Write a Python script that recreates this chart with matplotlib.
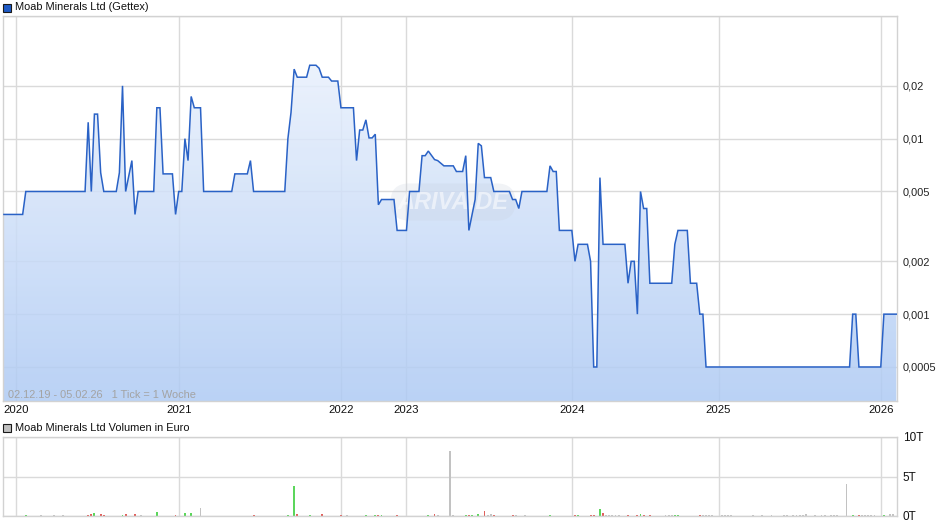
import matplotlib
matplotlib.use('Agg')
import matplotlib.pyplot as plt
import numpy as np
from matplotlib.ticker import FixedLocator, NullLocator, FixedFormatter
from matplotlib.patches import Rectangle

plt.rcParams['font.family'] = ['Liberation Sans', 'DejaVu Sans']

# ---------------- data ----------------
title_price = "Moab Minerals Ltd (Gettex)"
title_vol = "Moab Minerals Ltd Volumen in Euro"
period_note = "02.12.19 - 05.02.26   1 Tick = 1 Woche"
watermark = "ARIVA.DE"

# week index (1 tick = 1 week, weeks without trades skipped) and price in EUR
price_week = [0, 6, 7, 26, 27, 28, 29, 30, 31, 32, 36, 37, 38, 39, 41, 42, 43,
              48, 49, 50, 51, 54, 55, 56, 57, 58, 59, 60, 61, 63, 64, 73, 74, 78,
              79, 80, 90, 91, 92, 93, 94, 97, 98, 100, 101, 102, 104, 105, 107,
              108, 112, 113, 114, 115, 116, 117, 118, 119, 120, 121, 125, 126,
              129, 130, 133, 134, 135, 136, 138, 139, 141, 144, 145, 147, 148,
              149, 151, 152, 153, 154, 156, 157, 162, 163, 164, 165, 166, 174,
              175, 176, 177, 178, 182, 183, 184, 187, 188, 189, 190, 191, 192,
              199, 200, 201, 202, 203, 204, 205, 206, 207, 214, 215, 216, 219,
              220, 222, 223, 224, 225, 271, 272, 273, 274, 281, 282, 286]
price_val = [0.0037, 0.0037, 0.005, 0.005, 0.0124, 0.005, 0.0138, 0.0138, 0.0064,
             0.005, 0.005, 0.0064, 0.02, 0.005, 0.0075, 0.0037, 0.005,
             0.005, 0.015, 0.015, 0.0063, 0.0063, 0.0037, 0.005, 0.005, 0.01,
             0.0075, 0.0174, 0.015, 0.015, 0.005, 0.005, 0.0063, 0.0063,
             0.0075, 0.005, 0.005, 0.01, 0.0141, 0.0249, 0.0224, 0.0224, 0.0262,
             0.0262, 0.0252, 0.0224, 0.0224, 0.0213, 0.0213,
             0.015, 0.015, 0.0075, 0.0112, 0.0112, 0.0128, 0.0101, 0.0101,
             0.0106, 0.0042, 0.0045, 0.0045, 0.003,
             0.003, 0.005, 0.005, 0.008, 0.008, 0.0085, 0.0076, 0.0075, 0.0070,
             0.0070, 0.0065, 0.0065, 0.008,
             0.003, 0.0045, 0.0094, 0.0091, 0.006, 0.006, 0.005, 0.005, 0.0045,
             0.0045, 0.004, 0.005, 0.005,
             0.0070, 0.0065, 0.0065, 0.003, 0.003, 0.002, 0.0025, 0.0025, 0.002,
             0.0005, 0.0005, 0.006, 0.0025,
             0.0025, 0.0015, 0.002, 0.002, 0.001, 0.005, 0.004, 0.004, 0.0015,
             0.0015, 0.0025, 0.003, 0.003,
             0.0015, 0.0015, 0.001, 0.001, 0.0005, 0.0005, 0.001, 0.001, 0.0005,
             0.0005, 0.001, 0.001]

year_labels = ['2020', '2021', '2022', '2023', '2024', '2025', '2026']
year_week = [4, 56, 108, 129, 182, 229, 281]

price_ticks = [0.0005, 0.001, 0.002, 0.005, 0.01, 0.02, 0.05]
price_tick_labels = ['0,0005', '0,001', '0,002', '0,005', '0,01', '0,02', '']

# volume in EUR per week; colour: g = up, r = down, k = unchanged
vol_week = [7, 12, 16, 19, 27, 28, 29, 31, 32, 38, 39, 42, 44, 49, 55, 58, 60, 63,
            80, 91, 93, 94, 98, 102, 108, 110, 116, 119, 120, 121, 126, 136, 138,
            139, 143, 144, 148, 149, 150, 152, 154, 155, 156, 157, 163, 164, 167,
            175, 183, 184, 188, 189, 191, 192, 193, 194, 195, 196, 197, 200, 203,
            204, 205, 207, 212, 213, 214, 215, 216, 223, 224, 225, 226, 227, 230,
            231, 232, 233, 240, 243, 246, 250, 251, 253, 254, 255, 256, 257, 260,
            262, 263, 265, 266, 267, 270, 272, 274, 275, 276, 277, 278, 279, 282,
            284, 285]
vol_val = [120, 120, 120, 120, 180, 220, 400, 220, 180, 150, 220, 220, 120, 450, 180,
           420, 400, 1000,
           180, 150, 3800, 200, 150, 300, 180, 120, 150, 150, 180, 150, 180, 150, 200,
           120, 8200, 120, 150, 180, 120, 300, 600, 180, 220, 180, 180, 120, 120,
           150, 180, 150, 180, 180, 900, 400, 120, 120, 120, 120, 150, 150, 150,
           300, 150, 180, 120, 120, 120, 150, 150, 150, 120, 120, 120, 120, 120,
           120, 120, 120, 120, 120, 120, 120, 120, 150, 120, 120, 120, 250, 120,
           120, 120, 120, 120, 150, 4050, 150, 150, 120, 120, 120, 120, 120, 150,
           220, 220]
vol_color = ['g', 'k', 'k', 'k', 'r', 'r', 'g', 'r', 'r', 'g', 'r', 'r', 'k', 'g', 'r', 'g', 'g', 'k',
             'r', 'g', 'g', 'r', 'g', 'r', 'r', 'k', 'g', 'g', 'r', 'g', 'r', 'g', 'r',
             'k', 'k', 'k', 'g', 'r', 'g', 'g', 'r', 'k', 'k', 'r', 'r', 'k', 'k',
             'g', 'r', 'g', 'r', 'r', 'g', 'r', 'k', 'k', 'k', 'k', 'k', 'r', 'r',
             'g', 'r', 'r', 'k', 'k', 'k', 'g', 'g', 'r', 'k', 'k', 'k', 'k', 'k',
             'k', 'k', 'k', 'k', 'k', 'k', 'k', 'k', 'k', 'k', 'k', 'k', 'k', 'k',
             'k', 'k', 'k', 'k', 'k', 'k', 'g', 'r', 'k', 'k', 'k', 'k', 'k', 'g',
             'k', 'k']
vol_ticks = [0, 5000, 10000]
vol_tick_labels = ['0T', '5T', '10T']

# ---------------- styling ----------------
W, H = 940, 526
GRID = '#dadada'
SPINE = '#d2d2d2'
LINE = '#2a62c6'
FS = 7.9
col_map = {'g': '#5cd65c', 'r': '#e0605c', 'k': '#c2c2c2'}

fig = plt.figure(figsize=(W / 100, H / 100), dpi=100)
fig.patch.set_facecolor('white')

ax = fig.add_axes([3 / W, 1 - 401 / H, 894 / W, 385 / H])
axv = fig.add_axes([3 / W, 1 - 516 / H, 894 / W, 79 / H])

# ---- price panel ----
ax.set_yscale('log')
ax.set_axisbelow(True)
ax.yaxis.set_major_locator(FixedLocator(price_ticks))
ax.yaxis.set_major_formatter(FixedFormatter(price_tick_labels))
ax.yaxis.set_minor_locator(NullLocator())
ax.xaxis.set_major_locator(FixedLocator(year_week))
ax.xaxis.set_major_formatter(FixedFormatter(year_labels))
ax.yaxis.tick_right()
ax.tick_params(axis='y', length=0, pad=4, labelsize=FS, colors='#222222')
ax.tick_params(axis='x', length=0, pad=3, labelsize=FS + 0.3, colors='#111111')
ax.grid(True, color=GRID, linewidth=1, zorder=0)
for s in ax.spines.values():
    s.set_color(SPINE)
    s.set_linewidth(1)

# gradient fill under the line
poly = ax.fill_between(price_week, price_val, 1e-6, facecolor='none',
                       edgecolor='none', zorder=1)
top_c = np.array([241, 246, 254]) / 255.0
bot_c = np.array([174, 202, 244]) / 255.0
t = np.linspace(0, 1, 256)[:, None]
grad = (top_c[None, :] * (1 - t) + bot_c[None, :] * t)[:, None, :]
im = ax.imshow(grad, extent=[0, 1, 0, 1], transform=ax.transAxes,
               aspect='auto', origin='upper', alpha=0.85, zorder=1,
               interpolation='bilinear')
im.set_clip_path(poly.get_paths()[0], ax.transData)
ax.set_xlim(-0.3, 286.2)
ax.set_ylim(0.00032, 0.05)

ax.plot(price_week, price_val, color=LINE, linewidth=1.1, zorder=3,
        solid_joinstyle='miter')

ax.text((8 - 3) / 894, (401 - 395) / 385, period_note, transform=ax.transAxes,
        fontsize=FS, color='#a3a3a3', va='center', ha='left', zorder=4)
ax.text((453 - 3) / 894, (401 - 202) / 385, watermark, transform=ax.transAxes,
        fontsize=17, fontweight='bold', style='italic', color='white',
        alpha=0.55, ha='center', va='center', zorder=2,
        bbox=dict(boxstyle='round,pad=0.3,rounding_size=0.8',
                  facecolor='#c9d2de', edgecolor='none', alpha=0.25))

# ---- volume panel ----
axv.set_xlim(-0.3, 286.2)
axv.set_ylim(0, 10000)
axv.set_axisbelow(True)
axv.bar(vol_week, vol_val, width=0.6, color=[col_map[c] for c in vol_color],
        linewidth=0, zorder=2)
axv.yaxis.set_major_locator(FixedLocator(vol_ticks))
axv.yaxis.set_major_formatter(FixedFormatter(vol_tick_labels))
axv.xaxis.set_major_locator(FixedLocator(year_week))
axv.yaxis.tick_right()
axv.tick_params(axis='y', length=0, pad=4, labelsize=FS + 0.6, colors='#111111')
axv.tick_params(axis='x', length=0, labelbottom=False)
axv.grid(True, color=GRID, linewidth=1, zorder=0)
for s in axv.spines.values():
    s.set_color(SPINE)
    s.set_linewidth(1)

# ---- headers ----
fig.patches.append(Rectangle((3 / W, 1 - 12 / H), 8 / W, 8 / H,
                             transform=fig.transFigure, facecolor='#1f5bc6',
                             edgecolor='#1a1a1a', linewidth=0.8))
fig.text(15 / W, 1 - 7.5 / H, title_price, fontsize=FS, va='center',
         ha='left', color='#111111')
fig.patches.append(Rectangle((3 / W, 1 - 432 / H), 8 / W, 8 / H,
                             transform=fig.transFigure, facecolor='#c0c0c0',
                             edgecolor='#1a1a1a', linewidth=0.8))
fig.text(15 / W, 1 - 428 / H, title_vol, fontsize=FS, va='center',
         ha='left', color='#111111')

fig.savefig('out.png', dpi=100, facecolor='white')
